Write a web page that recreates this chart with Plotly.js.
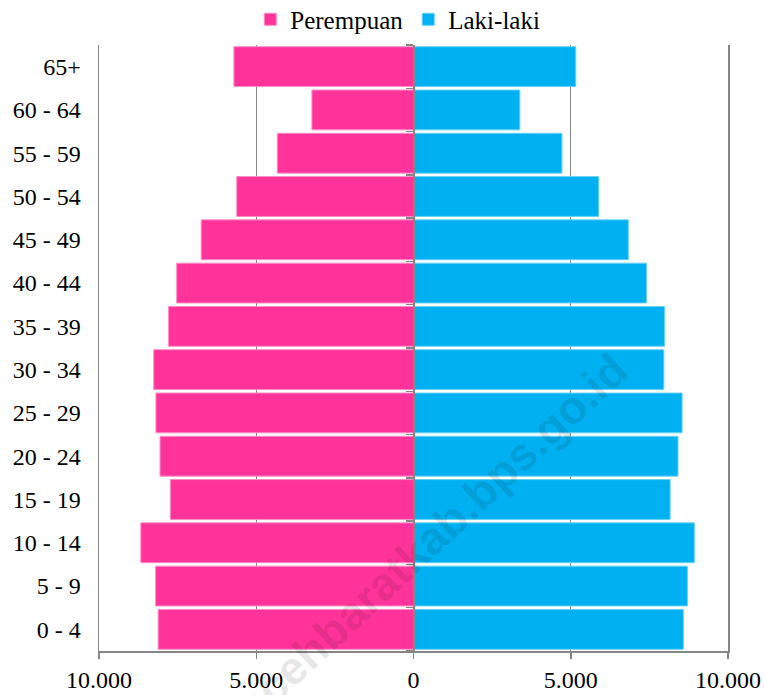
<!DOCTYPE html>
<html>
<head>
<meta charset="utf-8">
<script src="https://cdn.plot.ly/plotly-3.0.1.min.js"></script>
<style>
  html, body { margin: 0; padding: 0; background: #ffffff; }
  #chart { width: 764px; height: 695px; }
</style>
</head>
<body>
<div id="chart"></div>
<script>
// Age groups, bottom to top
const ageGroups = ['0 - 4', '5 - 9', '10 - 14', '15 - 19', '20 - 24', '25 - 29', '30 - 34',
                   '35 - 39', '40 - 44', '45 - 49', '50 - 54', '55 - 59', '60 - 64', '65+'];
// Female (Perempuan) population
const perempuan = [8120, 8200, 8670, 7730, 8060, 8190, 8260, 7790, 7530, 6750, 5620, 4330, 3230, 5710];
// Male (Laki-laki) population
const lakiLaki = [8580, 8710, 8930, 8160, 8410, 8540, 7960, 7980, 7410, 6830, 5890, 4720, 3380, 5160];
// X axis ticks
const xTickVals = [-10000, -5000, 0, 5000, 10000];
const xTickText = ['10.000', '5.000', '0', '5.000', '10.000'];

const FONT = "'Palatino Linotype', 'Book Antiqua', Palatino, 'Liberation Serif', serif";
const GRAY = '#868686';

const traces = [
  {
    type: 'bar', orientation: 'h', name: 'Perempuan',
    y: ageGroups, x: perempuan.map(v => -v),
    marker: { color: '#FF3399', line: { color: '#FF8CC6', width: 1 } },
    hoverinfo: 'skip'
  },
  {
    type: 'bar', orientation: 'h', name: 'Laki-laki',
    y: ageGroups, x: lakiLaki,
    marker: { color: '#00B0F0', line: { color: '#66D2F7', width: 1 } },
    hoverinfo: 'skip'
  },
  {
    type: 'scatter', mode: 'markers', x: [0], y: [0], yaxis: 'y2',
    marker: { opacity: 0 }, showlegend: false, hoverinfo: 'skip'
  }
];

const layout = {
  width: 764, height: 695,
  margin: { l: 99, r: 36, t: 45, b: 44, pad: 0, autoexpand: false },
  paper_bgcolor: '#ffffff', plot_bgcolor: '#ffffff',
  font: { family: FONT, size: 24, color: '#000000' },
  barmode: 'relative',
  bargap: 0.08,
  showlegend: true,
  legend: {
    orientation: 'h', x: 0.475, xanchor: 'center', y: 1.042, yanchor: 'middle',
    font: { family: FONT, size: 25, color: '#000000' },
    traceorder: 'normal', itemwidth: 30, tracegroupgap: 0, bgcolor: 'rgba(0,0,0,0)'
  },
  xaxis: {
    range: [-10000, 10000],
    tickmode: 'array', tickvals: xTickVals, ticktext: xTickText,
    showgrid: true, gridcolor: GRAY, gridwidth: 1,
    zeroline: false,
    showline: true, linecolor: GRAY, linewidth: 1.5,
    ticks: 'outside', ticklen: 6, tickcolor: GRAY, tickwidth: 1.5,
    ticklabelstandoff: 1,
    tickfont: { family: FONT, size: 24, color: '#000000' },
    fixedrange: true
  },
  yaxis: {
    type: 'category', categoryorder: 'array', categoryarray: ageGroups,
    range: [-0.5, 13.5],
    showgrid: false, zeroline: false,
    showline: true, mirror: true, linecolor: GRAY, linewidth: 1.5,
    ticks: '', ticklabelstandoff: 12,
    tickfont: { family: FONT, size: 24, color: '#000000' },
    fixedrange: true
  },
  yaxis2: {
    overlaying: 'y', anchor: 'free', position: 0.5, side: 'left',
    range: [-0.5, 13.5], tickmode: 'linear', tick0: -0.5, dtick: 1,
    showgrid: false, zeroline: false, showticklabels: false,
    showline: true, linecolor: GRAY, linewidth: 2,
    ticks: 'outside', ticklen: 7, tickcolor: GRAY, tickwidth: 1.5,
    fixedrange: true
  },
  annotations: [
    {
      xref: 'paper', yref: 'paper', x: 0.53, y: 0.188, xanchor: 'center', yanchor: 'middle',
      text: 'acehbaratkab.bps.go.id', showarrow: false, textangle: -43,
      font: { family: "'Liberation Sans', Arial, sans-serif", size: 46, color: 'rgba(0,0,0,0.1)', weight: 'bold' }
    }
  ]
};

Plotly.newPlot('chart', traces, layout, { displayModeBar: false, staticPlot: true });
</script>
</body>
</html>
